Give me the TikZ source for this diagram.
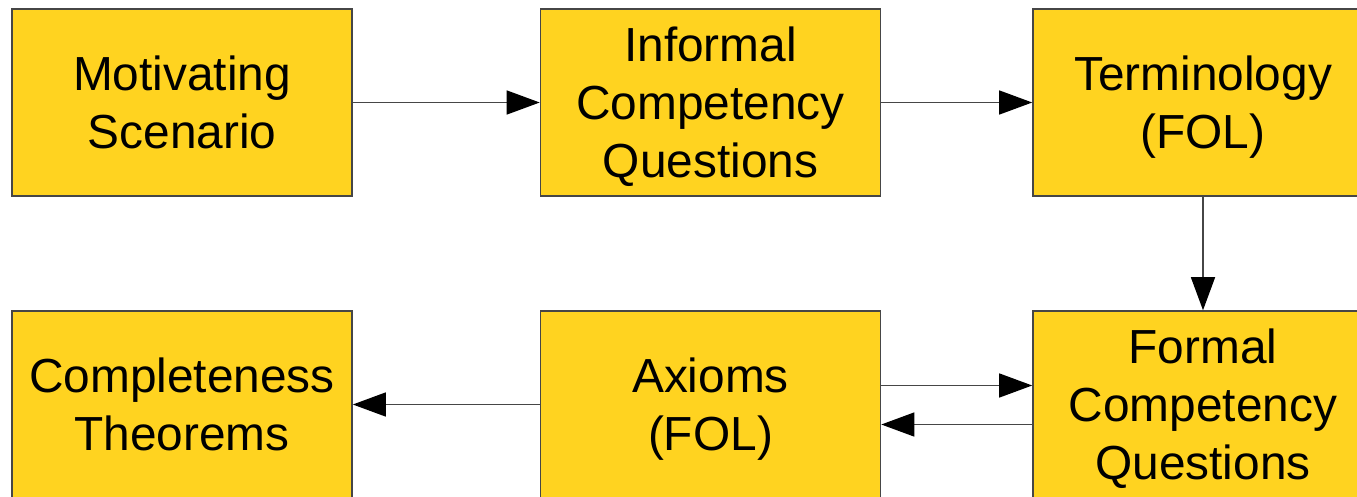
\documentclass[tikz,border=0pt]{standalone}
\usepackage{fontspec}
\setmainfont{Liberation Sans}
\usetikzlibrary{arrows.meta}
\definecolor{boxcolor}{RGB}{255,211,32}
\definecolor{linecolor}{RGB}{70,70,70}

\begin{document}
\begin{tikzpicture}[x=0.01cm, y=-0.01cm,
    font=\fontsize{13.6}{16.5}\selectfont,
    stage/.style={draw=linecolor, fill=boxcolor, minimum width=3.4cm, minimum height=1.87cm, align=center, inner sep=0pt, text depth=-0.08cm},
    flow/.style={draw=linecolor, line width=0.4pt, -{Triangle[length=0.33cm, width=0.24cm, color=black]}}]
  \useasboundingbox (0,0) rectangle (1357,497);
  \clip (0,0) rectangle (1357,497);

  \node[stage] (scenario) at (182,102.5) {Motivating\\Scenario};
  \node[stage] (informal) at (710.5,102.5) {Informal\\Competency\\Questions};
  \node[stage] (terms) at (1203,102.5) {Terminology\\(FOL)};
  \node[stage] (formal) at (1203,404.5) {Formal\\Competency\\Questions};
  \node[stage] (axioms) at (710.5,404.5) {Axioms\\(FOL)};
  \node[stage] (theorems) at (182,404.5) {Completeness\\Theorems};

  \draw[flow] (scenario) -- (informal);
  \draw[flow] (informal) -- (terms);
  \draw[flow] (terms) -- (formal);
  \draw[flow] ([yshift=0.19cm]axioms.east) -- ([yshift=0.19cm]formal.west); % axioms to questions
  \draw[flow] ([yshift=-0.2cm]formal.west) -- ([yshift=-0.2cm]axioms.east); % and back
  \draw[flow] (axioms) -- (theorems);
\end{tikzpicture}
\end{document}
